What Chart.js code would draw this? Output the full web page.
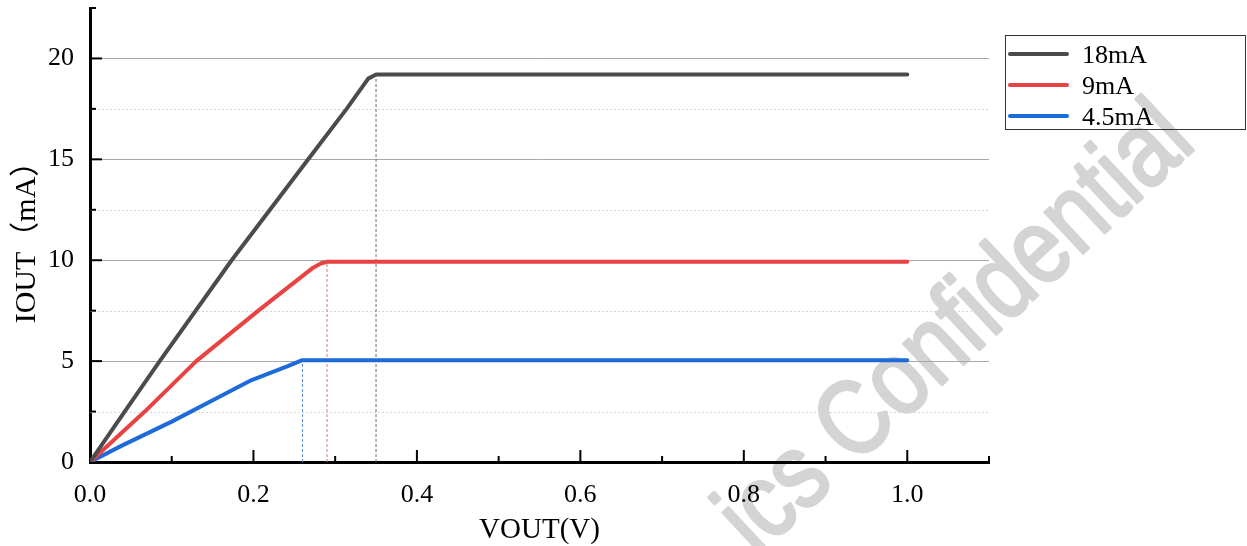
<!DOCTYPE html>
<html><head><meta charset="utf-8">
<script src="https://cdn.jsdelivr.net/npm/chart.js@4/dist/chart.umd.min.js"></script>
<style>html,body{margin:0;padding:0;background:#fff;}#wrap{width:1247px;height:546px;position:relative;}</style>
</head><body><div id="wrap"><canvas id="c" width="1247" height="546"></canvas></div>
<script>
// ---- data ----
const seriesNames = ['18mA', '9mA', '4.5mA'];
const seriesColors = ['#4b4b4b', '#e84242', '#1d6bdb'];
const kneeColors = ['#6e6e6e', '#d97a7a', '#5b8fe0'];
const vout18 = [0, 0.0424, 0.0853, 0.1733, 0.2202, 0.267, 0.314, 0.3404, 0.35, 1.0];
const iout18 = [0, 2.5, 5, 10, 12.5, 15, 17.5, 19.0, 19.2, 19.2];
const vout9 = [0, 0.067, 0.130, 0.206, 0.273, 0.283, 0.29, 1.0];
const iout9 = [0, 2.5, 5.0, 7.5, 9.63, 9.85, 9.92, 9.92];
const vout45 = [0, 0.0383, 0.1, 0.1566, 0.1978, 0.242, 0.259, 1.0];
const iout45 = [0, 0.8, 2.0, 3.2, 4.06, 4.75, 5.04, 5.04];
const kneeV = [0.35, 0.29, 0.26];
const kneeI = [19.2, 9.92, 5.04];
const xTickValues = [0, 0.1, 0.2, 0.3, 0.4, 0.5, 0.6, 0.7, 0.8, 0.9, 1.0, 1.1];
const xTickLabels = ['0.0', '', '0.2', '', '0.4', '', '0.6', '', '0.8', '', '1.0', ''];
const yTickValues = [0, 2.5, 5, 7.5, 10, 12.5, 15, 17.5, 20, 22.5];
const yTickLabels = ['0', '', '5', '', '10', '', '15', '', '20', ''];
const xTitle = 'VOUT(V)';
const yTitle = 'IOUT（mA）';
const watermark = 'ics Confidential';

const pts = (xs, ys) => xs.map((x, i) => ({x: x, y: ys[i]}));
const curves = [pts(vout18, iout18), pts(vout9, iout9), pts(vout45, iout45)];

const datasets = curves.map((d, i) => ({
  label: seriesNames[i], data: d, showLine: true, borderColor: seriesColors[i],
  backgroundColor: seriesColors[i], borderWidth: 4, pointRadius: 0, tension: 0,
  borderCapStyle: 'round', borderJoinStyle: 'round', order: 1 + i
}));
kneeV.forEach((v, i) => datasets.push({
  label: 'knee' + i, data: [{x: v, y: 0}, {x: v, y: kneeI[i]}], showLine: true,
  borderColor: kneeColors[i], borderWidth: 1, borderDash: [3, 2], pointRadius: 0, order: 10
}));

const SERIF = "'Liberation Serif', 'Noto Sans CJK SC', serif";

const decor = {
  id: 'decor',
  beforeDraw(chart) {
    const ctx = chart.ctx;
    ctx.save();
    ctx.fillStyle = '#fff';
    ctx.fillRect(0, 0, chart.width, chart.height);
    ctx.translate(1198, 146);
    ctx.rotate(-43 * Math.PI / 180);
    ctx.scale(0.84, 1);
    ctx.font = "106px 'Liberation Sans', Arial, sans-serif";
    ctx.fillStyle = '#d4d4d4';
    ctx.strokeStyle = '#d4d4d4';
    ctx.lineWidth = 3;
    ctx.lineJoin = 'round';
    ctx.textAlign = 'right';
    ctx.textBaseline = 'alphabetic';
    ctx.fillText(watermark, 0, 0);
    ctx.strokeText(watermark, 0, 0);
    ctx.restore();
  },
  beforeDatasetsDraw(chart) {
    const ctx = chart.ctx, a = chart.chartArea, ys = chart.scales.y;
    ctx.save();
    ctx.strokeStyle = '#d6d6d6';
    ctx.lineWidth = 1;
    ctx.setLineDash([2, 2]);
    yTickValues.forEach((v, i) => {
      if (yTickLabels[i] === '' && v < 22.5) {
        const p = Math.round(ys.getPixelForValue(v)) + 0.5;
        ctx.beginPath(); ctx.moveTo(a.left, p); ctx.lineTo(a.right, p); ctx.stroke();
      }
    });
    ctx.restore();
  },
  afterDraw(chart) {
    const ctx = chart.ctx, a = chart.chartArea, xs = chart.scales.x, ys = chart.scales.y;
    ctx.save();
    ctx.strokeStyle = '#000';
    ctx.lineWidth = 2;
    ctx.setLineDash([]);
    yTickValues.forEach((v, i) => {
      if (v === 0) return;
      const p = ys.getPixelForValue(v);
      const len = yTickLabels[i] === '' ? 6 : 12;
      ctx.beginPath(); ctx.moveTo(a.left, p); ctx.lineTo(a.left + len, p); ctx.stroke();
    });
    xTickValues.forEach((v, i) => {
      if (v === 0) return;
      const p = xs.getPixelForValue(v);
      const len = xTickLabels[i] === '' ? 6 : 12;
      ctx.beginPath(); ctx.moveTo(p, a.bottom); ctx.lineTo(p, a.bottom - len); ctx.stroke();
    });
    // legend
    ctx.lineWidth = 1;
    ctx.strokeStyle = '#333';
    ctx.strokeRect(1005.5, 35.5, 240, 94);
    ctx.font = '26px ' + SERIF;
    ctx.fillStyle = '#000';
    ctx.textAlign = 'left';
    ctx.textBaseline = 'alphabetic';
    for (let i = 0; i < 3; i++) {
      const y = 54 + 31 * i;
      ctx.strokeStyle = seriesColors[i];
      ctx.lineWidth = 4;
      ctx.lineCap = 'round';
      ctx.beginPath(); ctx.moveTo(1010, y); ctx.lineTo(1067, y); ctx.stroke();
      ctx.fillText(seriesNames[i], 1082, y + 9);
    }
    ctx.restore();
  }
};

new Chart(document.getElementById('c'), {
  type: 'scatter',
  data: {datasets: datasets},
  options: {
    responsive: false, animation: false, devicePixelRatio: 1,
    layout: {padding: {top: 8, right: 258, bottom: 0, left: 0}},
    plugins: {legend: {display: false}, tooltip: {enabled: false}},
    scales: {
      x: {
        type: 'linear', min: 0, max: 1.1,
        afterBuildTicks: s => { s.ticks = xTickValues.map(v => ({value: v})); },
        afterFit: s => { s.height = 84; s.paddingLeft = 0; s.paddingRight = 0; },
        ticks: {autoSkip: false, maxRotation: 0, padding: 18, color: '#000',
          font: {family: SERIF, size: 26}, callback: (v, i) => xTickLabels[i]},
        grid: {color: 'rgba(0,0,0,0)', drawTicks: false},
        border: {display: true, color: '#000', width: 3},
        title: {display: true, text: xTitle, color: '#000', padding: {top: 0, bottom: 0},
          font: {family: SERIF, size: 29, lineHeight: 1.1}}
      },
      y: {
        type: 'linear', min: 0, max: 22.5,
        afterBuildTicks: s => { s.ticks = yTickValues.map(v => ({value: v})); },
        afterFit: s => { s.width = 90; s.paddingTop = 0; s.paddingBottom = 0; },
        ticks: {autoSkip: false, padding: 16, color: '#000',
          font: {family: SERIF, size: 26}, callback: (v, i) => yTickLabels[i]},
        grid: {drawTicks: false, lineWidth: 1,
          color: c => (c.tick && yTickLabels[c.index] !== '' && c.tick.value !== 0) ? '#a8a8a8' : 'rgba(0,0,0,0)'},
        border: {display: true, color: '#000', width: 3},
        title: {display: true, text: yTitle, color: '#000', padding: {top: 11, bottom: 0},
          font: {family: SERIF, size: 30, lineHeight: 1.1}}
      }
    }
  },
  plugins: [decor]
});
</script></body></html>
